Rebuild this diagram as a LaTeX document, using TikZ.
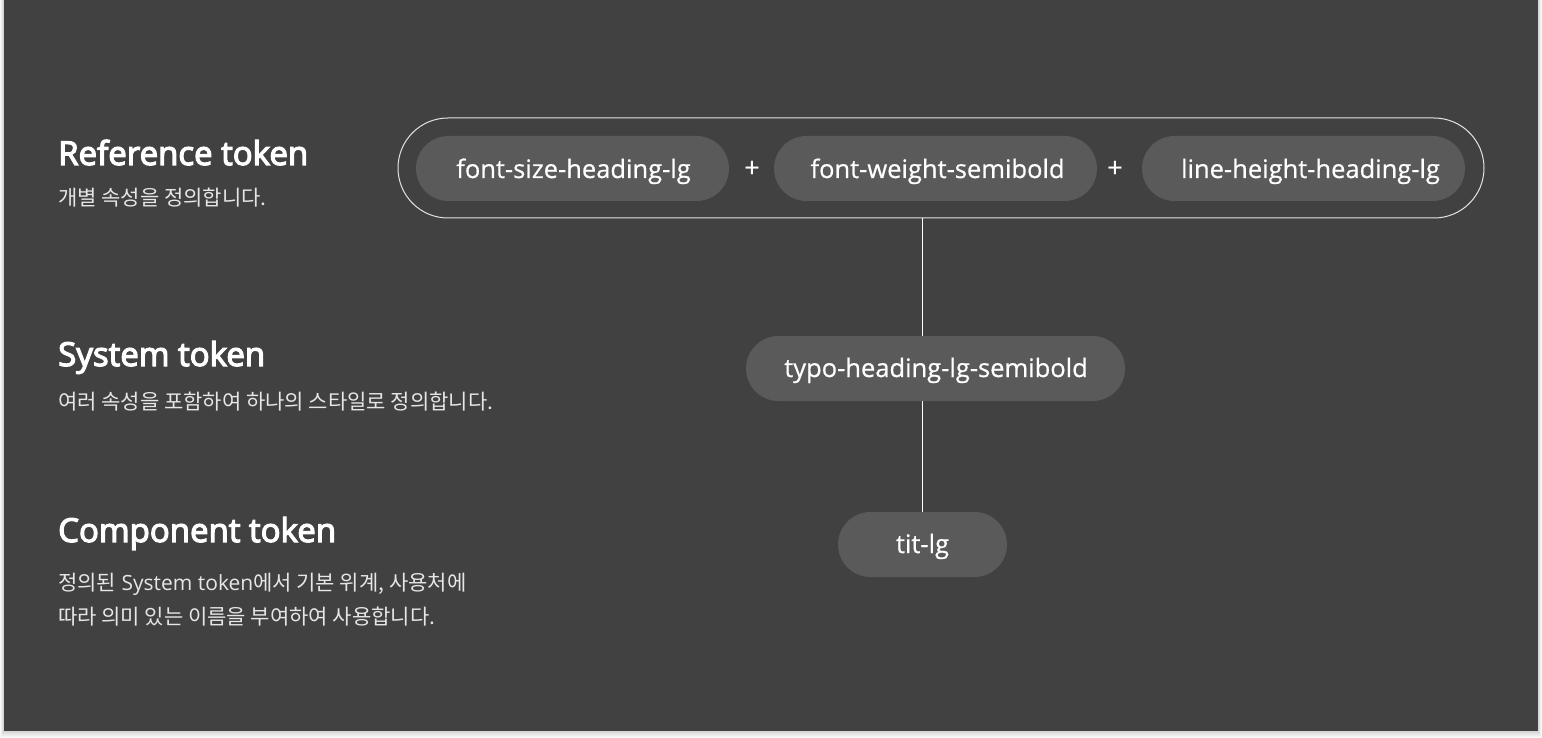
\documentclass[tikz,border=0pt]{standalone}
\usepackage{fontspec}
\setmainfont{Open Sans}
\newfontfamily\headfont{Open Sans}[FakeBold=3.6]
\newfontfamily\pillfont{Open Sans}[FakeBold=0.6]
\newfontfamily\kr{Noto Sans CJK KR}
\definecolor{canvas}{HTML}{414141}
\definecolor{pillfill}{HTML}{5A5A5A}
\definecolor{subtext}{HTML}{E6E6E6}
\definecolor{framestroke}{HTML}{E4E4E4}
\tikzset{
  pill/.style={fill=pillfill, rounded corners=32.5pt, minimum height=65pt, inner sep=0pt},
  pilltext/.style={anchor=base, text=white, font=\pillfont\fontsize{25.5}{29}\selectfont, inner sep=0pt},
  plus/.style={text=white, font=\pillfont\fontsize{27}{30}\selectfont, inner sep=0pt},
  frame/.style={draw=framestroke, line width=1pt, rounded corners=50pt, minimum width=1086pt, minimum height=100pt, inner sep=0pt},
  heading/.style={anchor=base west, text=white, inner sep=0pt, font=\headfont\fontsize{33}{37}\selectfont},
  desc/.style={anchor=base west, text=subtext, inner sep=0pt, font=\fontsize{21}{25}\selectfont},
  conn/.style={draw=white, line width=1pt},
}
\begin{document}
\begin{tikzpicture}[x=1pt,y=-1pt]
\useasboundingbox (0,0) rectangle (1542,738);
\fill[white] (0,0) rectangle (1542,738);
% soft drop shadow under the panel
\foreach \d in {1,...,7}{
  \fill[black, opacity=0.025] (4-\d*0.55,0) rectangle (1538+\d*0.55,731+\d);
}
\fill[canvas] (4,0) rectangle (1538,731);

% left column: titles and descriptions
\node[heading] (h1) at (58,165) {Reference token};
\node[desc] (d1) at (58,205.5) {\kr 개별 속성을 정의합니다.};
\node[heading] (h2) at (58,366) {System token};
\node[desc] (d2) at (58,409.5) {\kr 여러 속성을 포함하여 하나의 스타일로 정의합니다.};
\node[heading] (h3) at (58,542) {Component token};
\node[desc] (d3a) at (58,590.5) {{\kr 정의된} System token{\kr 에서 기본 위계, 사용처에}};
\node[desc] (d3b) at (58,624.5) {\kr 따라 의미 있는 이름을 부여하여 사용합니다.};

% reference tokens inside the outlined capsule
\node[frame] (ref) at (941,168) {};
\node[pill, minimum width=313pt] (p1) at (572.5,168.5) {};
\node[pilltext] (p1t) at (573.5,178) {font-size-heading-lg};
\node[plus] (plus1) at (752,169) {+};
\node[pill, minimum width=323pt] (p2) at (935.5,168.5) {};
\node[pilltext] (p2t) at (937.5,178) {font-weight-semibold};
\node[plus] (plus2) at (1115,169) {+};
\node[pill, minimum width=323pt] (p3) at (1303.5,168.5) {};
\node[pilltext] (p3t) at (1310.5,178) {line-height-heading-lg};

% system token
\node[pill, minimum width=379pt] (sys) at (935.5,368.5) {};
\node[pilltext] (syst) at (936,377) {typo-heading-lg-semibold};

% component token
\node[pill, minimum width=169pt] (comp) at (922.5,544.5) {};
\node[pilltext] (compt) at (922.5,553) {tit-lg};

% connectors
\draw[conn] (comp.north |- ref.south) -- (comp.north |- sys.north);
\draw[conn] (comp.north |- sys.south) -- (comp.north);
\end{tikzpicture}
\end{document}
